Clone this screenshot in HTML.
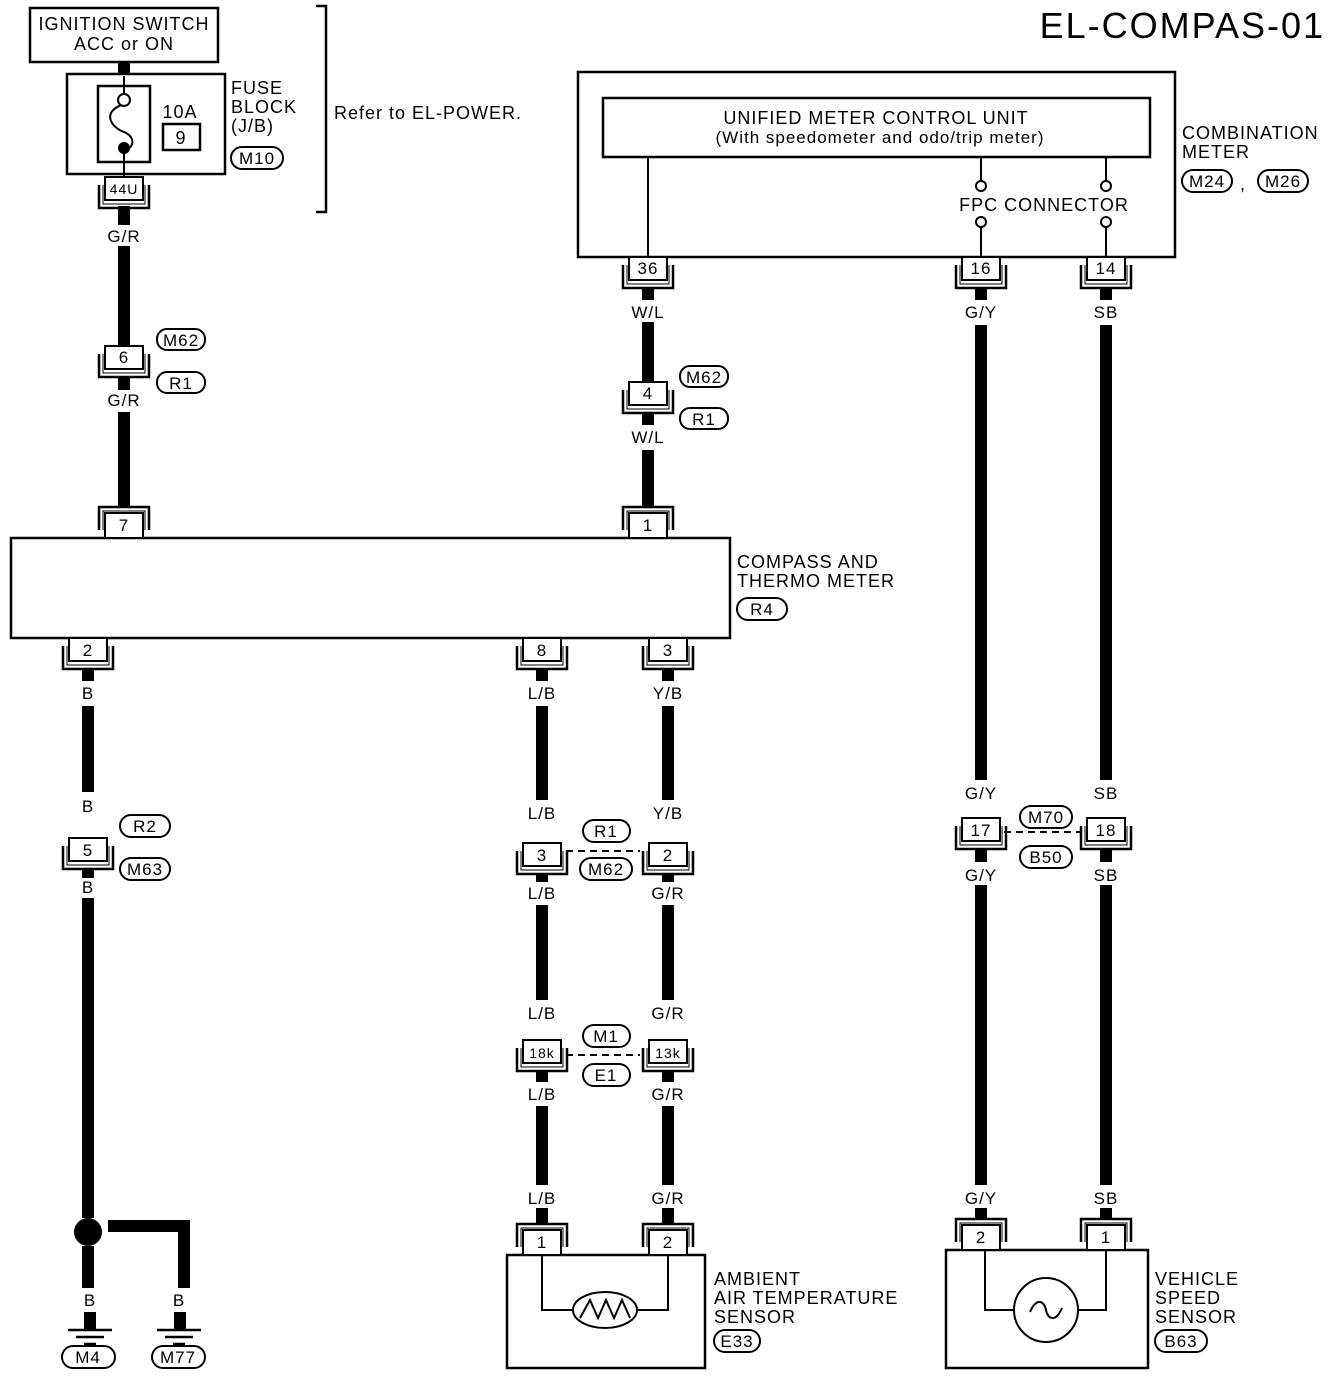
<!DOCTYPE html>
<html><head><meta charset="utf-8"><style>
html,body{margin:0;padding:0;background:#fff}
svg{display:block}
text{font-family:"Liberation Sans",sans-serif;fill:#000;letter-spacing:1px}
</style></head><body>
<svg width="1344" height="1376" viewBox="0 0 1344 1376" xmlns="http://www.w3.org/2000/svg">
<defs>
<g id="cd"><rect x="-19" y="0" width="38" height="23" fill="#fff" stroke="#000" stroke-width="2"/><path d="M-25,8V31H25V8" fill="none" stroke="#000" stroke-width="2.5"/><path d="M-21,8V27H21V8" fill="none" stroke="#000" stroke-width="1"/></g>
<g id="cu"><rect x="-19" y="-25" width="38" height="25" fill="#fff" stroke="#000" stroke-width="2"/><path d="M-25,-8V-31H25V-8" fill="none" stroke="#000" stroke-width="2.5"/><path d="M-21,-8V-27H21V-8" fill="none" stroke="#000" stroke-width="1"/></g>
<g id="gnd"><path d="M-22,0H22M-14,7H14M-6,14H6" stroke="#000" stroke-width="2.5"/></g>
</defs>

<g stroke="#000" stroke-width="12" fill="none">
<path d="M124,62V76M124,206V225M124,246V346M124,378V390M124,412V507"/>
<path d="M648,289V300M648,322V382M648,414V425M648,450V507"/>
<path d="M981,289V300M981,325V780M981,850V862M981,885V1185M981,1208V1219"/>
<path d="M1106,289V300M1106,325V780M1106,850V862M1106,885V1185M1106,1208V1219"/>
<path d="M88,670V681M88,706V792M88,870V878M88,898V1218M88,1246V1288M108,1226H184V1288"/>
<path d="M542,670V681M542,706V800M542,875V882M542,905V1000M542,1072V1082M542,1106V1185M542,1208V1224"/>
<path d="M668,670V681M668,706V800M668,875V882M668,905V1000M668,1072V1082M668,1106V1185M668,1208V1224"/>
<path d="M90,1312V1330M180,1312V1330"/>
</g>
<circle cx="88" cy="1232" r="14" fill="#000"/>
<use href="#gnd" x="90" y="1330"/><use href="#gnd" x="179" y="1330"/>

<g fill="none" stroke="#000" stroke-width="2.5">
<rect x="30" y="8" width="188" height="54" fill="#fff"/>
<rect x="67" y="74" width="158" height="100" fill="#fff"/>
<rect x="98" y="86" width="52" height="76"/>
<rect x="163" y="124" width="37" height="26"/>
<path d="M316,6H326V212H316"/>
<rect x="578" y="72" width="597" height="185" fill="#fff"/>
<rect x="603" y="98" width="547" height="59"/>
<rect x="11" y="538" width="719" height="100" fill="#fff"/>
<rect x="507" y="1255" width="198" height="113" fill="#fff"/>
<rect x="946" y="1250" width="202" height="118" fill="#fff"/>
</g>
<path d="M124,76V94M124,148V176M124,104C100,112 112,128 124,132C138,138 132,150 124,150" stroke="#000" stroke-width="2" fill="none"/>
<circle cx="124" cy="100" r="6" fill="#fff" stroke="#000" stroke-width="2"/>
<circle cx="124" cy="148" r="6" fill="#000"/>
<g stroke="#000" stroke-width="2" fill="none">
<path d="M648,157V262M981,157V181M1106,157V181M981,227V257M1106,227V257"/>
<circle cx="981" cy="186" r="5" fill="#fff"/><circle cx="1106" cy="186" r="5" fill="#fff"/>
<circle cx="981" cy="222" r="5" fill="#fff"/><circle cx="1106" cy="222" r="5" fill="#fff"/>
<path d="M542,1255V1310H573M637,1310H668V1255"/>
<ellipse cx="605" cy="1310" rx="32" ry="18" fill="#fff"/>
<path d="M580,1318L590,1300L598,1318L606,1300L614,1318L622,1300L630,1318"/>
<path d="M985,1250V1310H1014M1078,1310H1106V1250"/>
<circle cx="1046" cy="1310" r="32" fill="#fff"/>
<path d="M1030,1312C1036,1298 1044,1300 1046,1310C1048,1320 1056,1322 1062,1308"/>
</g>
<g stroke="#000" stroke-width="2" stroke-dasharray="7,5">
<path d="M566,851H640M566,1055H640M1004,832H1080"/>
</g>

<use href="#cd" x="124" y="177"/><use href="#cd" x="124" y="346"/><use href="#cu" x="124" y="538"/>
<use href="#cd" x="648" y="257"/><use href="#cd" x="981" y="257"/><use href="#cd" x="1106" y="257"/>
<use href="#cd" x="648" y="382"/><use href="#cu" x="648" y="538"/>
<use href="#cd" x="88" y="638"/><use href="#cd" x="542" y="638"/><use href="#cd" x="668" y="638"/>
<use href="#cd" x="88" y="838"/>
<use href="#cd" x="542" y="843"/><use href="#cd" x="668" y="843"/>
<use href="#cd" x="542" y="1040"/><use href="#cd" x="668" y="1040"/>
<use href="#cd" x="981" y="818"/><use href="#cd" x="1106" y="818"/>
<use href="#cu" x="542" y="1255"/><use href="#cu" x="668" y="1255"/>
<use href="#cu" x="981" y="1250"/><use href="#cu" x="1106" y="1250"/>

<g fill="#fff" stroke="#000" stroke-width="2">
<rect x="231" y="147" width="52" height="22" rx="11"/>
<rect x="157" y="329" width="48" height="21" rx="10"/><rect x="157" y="372" width="48" height="21" rx="10"/>
<rect x="680" y="366" width="48" height="21" rx="10"/><rect x="680" y="408" width="48" height="21" rx="10"/>
<rect x="1182" y="170" width="50" height="22" rx="11"/><rect x="1258" y="170" width="50" height="22" rx="11"/>
<rect x="737" y="598" width="50" height="22" rx="11"/>
<rect x="120" y="815" width="50" height="22" rx="11"/><rect x="120" y="858" width="50" height="22" rx="11"/>
<rect x="583" y="820" width="47" height="22" rx="11"/><rect x="580" y="858" width="52" height="22" rx="11"/>
<rect x="583" y="1025" width="47" height="22" rx="11"/><rect x="583" y="1064" width="47" height="22" rx="11"/>
<rect x="1020" y="806" width="52" height="22" rx="11"/><rect x="1020" y="846" width="52" height="22" rx="11"/>
<rect x="62" y="1346" width="53" height="22" rx="11"/><rect x="152" y="1346" width="53" height="22" rx="11"/>
<rect x="714" y="1330" width="46" height="22" rx="11"/><rect x="1155" y="1330" width="52" height="22" rx="11"/>
</g>

<g font-size="18">
<text x="1325" y="38" font-size="36" text-anchor="end" style="letter-spacing:2px">EL-COMPAS-01</text>
<g text-anchor="middle">
<text x="124" y="30">IGNITION SWITCH</text><text x="124" y="50">ACC or ON</text>
<text x="180" y="118">10A</text><text x="181" y="144">9</text>
<text x="876" y="124">UNIFIED METER CONTROL UNIT</text>
<text x="880" y="143" font-size="17">(With speedometer and odo/trip meter)</text>
<text x="1044" y="211">FPC CONNECTOR</text>
</g>
<text x="231" y="94">FUSE</text><text x="231" y="113">BLOCK</text><text x="231" y="132">(J/B)</text>
<text x="334" y="119">Refer to EL-POWER.</text>
<text x="1182" y="139">COMBINATION</text><text x="1182" y="158">METER</text><text x="1240" y="190">,</text>
<text x="737" y="568">COMPASS AND</text><text x="737" y="587">THERMO METER</text>
<text x="714" y="1285">AMBIENT</text><text x="714" y="1304">AIR TEMPERATURE</text><text x="714" y="1323">SENSOR</text>
<text x="1155" y="1285">VEHICLE</text><text x="1155" y="1304">SPEED</text><text x="1155" y="1323">SENSOR</text>
<g text-anchor="middle" font-size="17">
<text x="257" y="164">M10</text><text x="181" y="346">M62</text><text x="181" y="389">R1</text>
<text x="704" y="383">M62</text><text x="704" y="425">R1</text>
<text x="1207" y="187">M24</text><text x="1283" y="187">M26</text><text x="762" y="615">R4</text>
<text x="145" y="832">R2</text><text x="145" y="875">M63</text>
<text x="606" y="837">R1</text><text x="606" y="875">M62</text>
<text x="606" y="1042">M1</text><text x="606" y="1081">E1</text>
<text x="1046" y="823">M70</text><text x="1046" y="863">B50</text>
<text x="88" y="1363">M4</text><text x="178" y="1363">M77</text>
<text x="737" y="1347">E33</text><text x="1181" y="1347">B63</text>
<text x="124" y="194" font-size="14">44U</text><text x="124" y="363">6</text><text x="124" y="531">7</text>
<text x="648" y="274">36</text><text x="981" y="274">16</text><text x="1106" y="274">14</text>
<text x="648" y="399">4</text><text x="648" y="531">1</text>
<text x="88" y="656">2</text><text x="542" y="656">8</text><text x="668" y="656">3</text>
<text x="88" y="856">5</text><text x="542" y="861">3</text><text x="668" y="861">2</text>
<text x="542" y="1058" font-size="14">18k</text><text x="668" y="1058" font-size="14">13k</text>
<text x="981" y="836">17</text><text x="1106" y="836">18</text>
<text x="542" y="1248">1</text><text x="668" y="1248">2</text><text x="981" y="1243">2</text><text x="1106" y="1243">1</text>
<text x="124" y="242">G/R</text><text x="124" y="406">G/R</text>
<text x="648" y="318">W/L</text><text x="648" y="443">W/L</text>
<text x="981" y="318">G/Y</text><text x="981" y="799">G/Y</text><text x="981" y="881">G/Y</text><text x="981" y="1204">G/Y</text>
<text x="1106" y="318">SB</text><text x="1106" y="799">SB</text><text x="1106" y="881">SB</text><text x="1106" y="1204">SB</text>
<text x="88" y="699">B</text><text x="88" y="812">B</text><text x="88" y="893">B</text><text x="90" y="1306">B</text><text x="179" y="1306">B</text>
<text x="542" y="699">L/B</text><text x="542" y="819">L/B</text><text x="542" y="899">L/B</text><text x="542" y="1019">L/B</text><text x="542" y="1100">L/B</text><text x="542" y="1204">L/B</text>
<text x="668" y="699">Y/B</text><text x="668" y="819">Y/B</text><text x="668" y="899">G/R</text><text x="668" y="1019">G/R</text><text x="668" y="1100">G/R</text><text x="668" y="1204">G/R</text>
</g>
</g>
</svg>
</body></html>
